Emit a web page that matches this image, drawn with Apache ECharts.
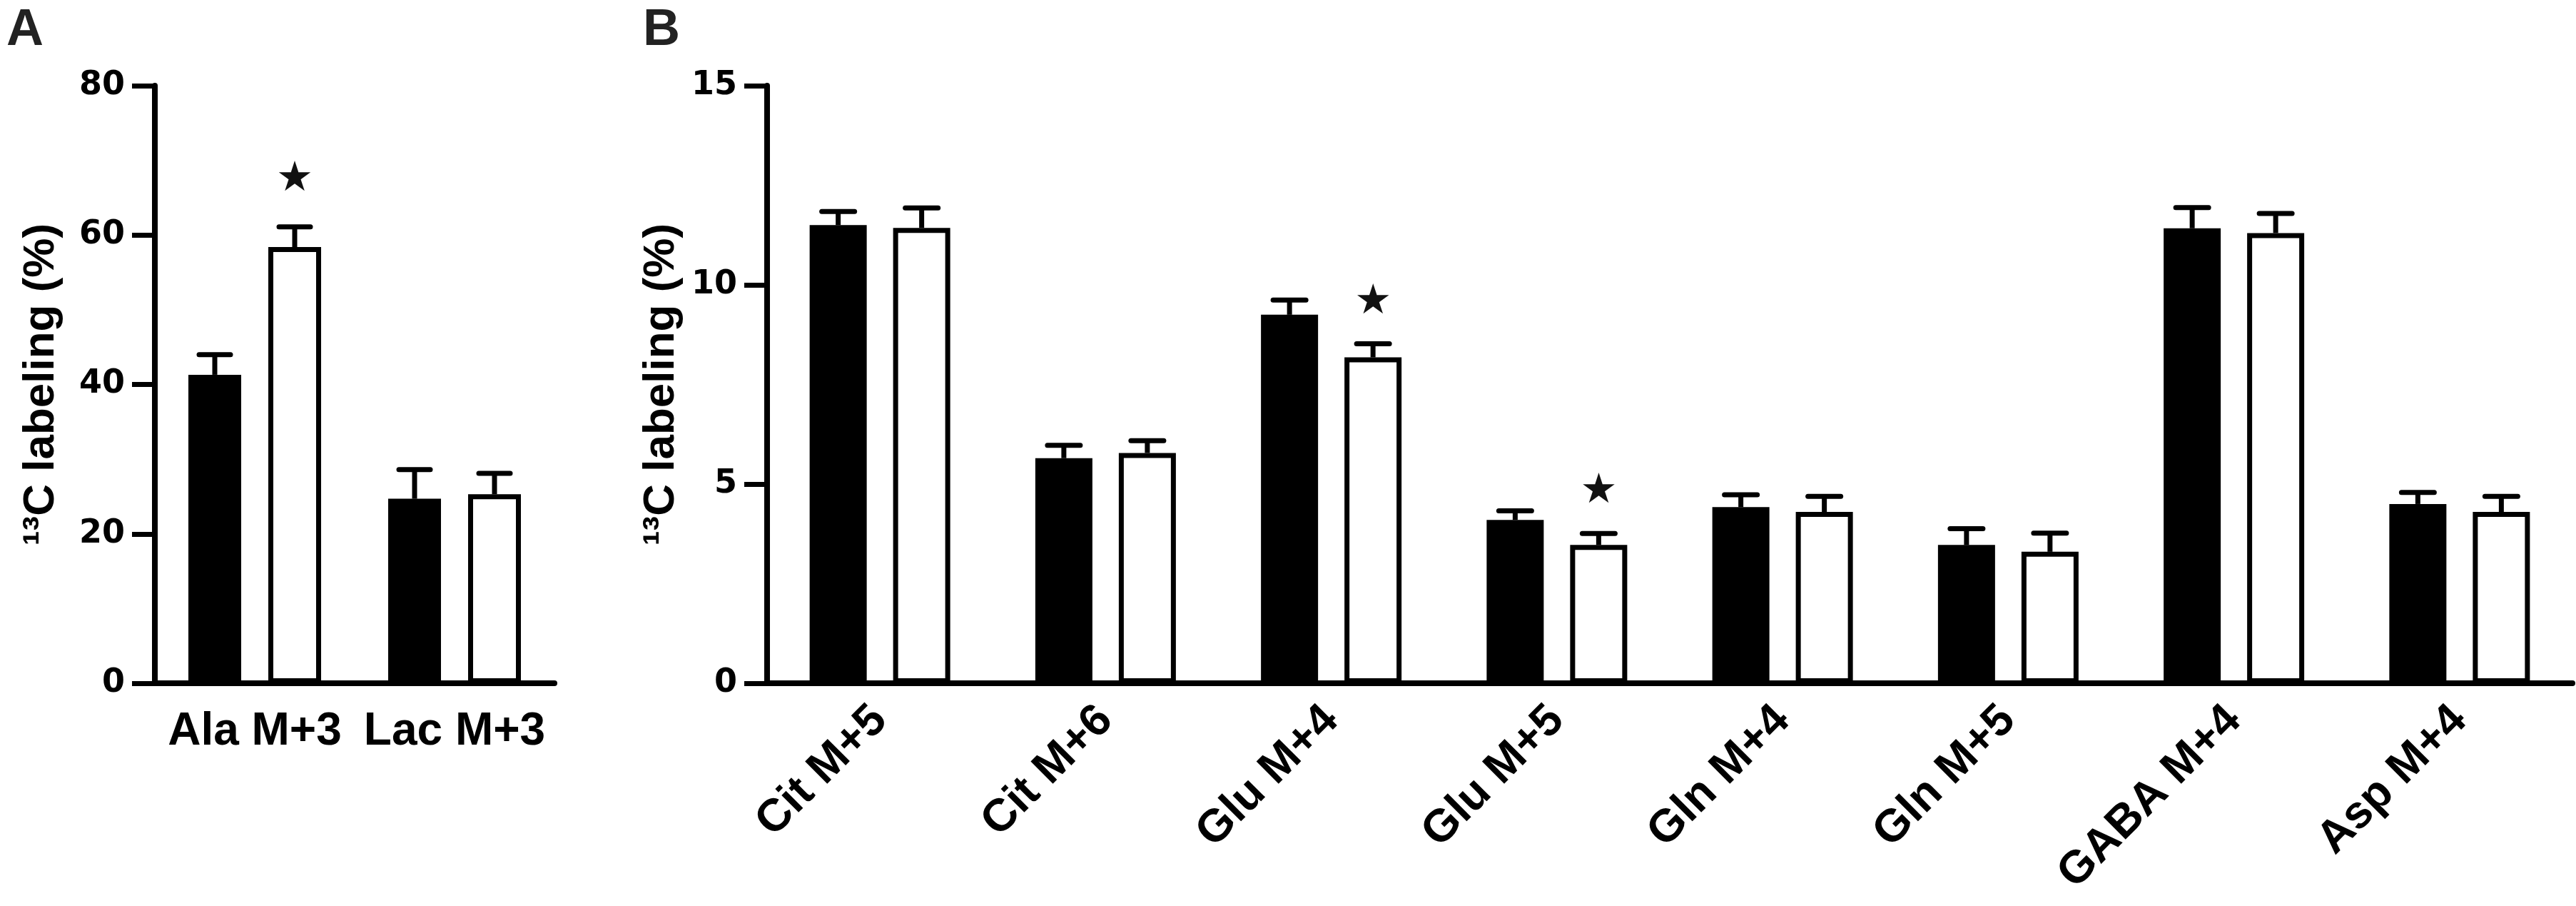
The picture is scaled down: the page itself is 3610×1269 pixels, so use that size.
<!DOCTYPE html>
<html>
<head>
<meta charset="utf-8">
<script src="https://cdn.jsdelivr.net/npm/echarts@6/dist/echarts.min.js"></script>
<style>
  html, body { margin: 0; padding: 0; background: #fff; }
  #chart { width: 3610px; height: 1269px; }
</style>
</head>
<body>
<div id="chart"></div>
<script>
// panel A
var catsA = ["Ala M+3", "Lac M+3"];
var blackA = [41.3, 24.7];
var blackErrA = [2.7, 3.9];
var whiteA = [58.4, 25.3];
var whiteErrA = [2.7, 2.8];
var starA = [1, 0];          // star above white bar
var ticksA = [0, 20, 40, 60, 80];

// panel B
var catsB = ["Cit M+5", "Cit M+6", "Glu M+4", "Glu M+5", "Gln M+4", "Gln M+5", "GABA M+4", "Asp M+4"];
var blackB = [11.5, 5.65, 9.25, 4.1, 4.42, 3.47, 11.42, 4.5];
var blackErrB = [0.34, 0.32, 0.37, 0.23, 0.31, 0.41, 0.52, 0.29];
var whiteB = [11.43, 5.78, 8.18, 3.47, 4.3, 3.3, 11.3, 4.3];
var whiteErrB = [0.5, 0.31, 0.34, 0.29, 0.39, 0.47, 0.49, 0.39];
var starB = [0, 0, 1, 1, 0, 0, 0, 0];
var ticksB = [0, 5, 10, 15];

var FONT = "Liberation Sans";
var NUMFONT = "DejaVu Sans";
var LW = 8;

var chart = echarts.init(document.getElementById("chart"));

function errBar(offset, capHalf) {
  return function (params, api) {
    var i = api.value(0);
    var base = api.coord([i, api.value(1)]);
    var top = api.coord([i, api.value(1) + api.value(2)]);
    var x = base[0] + offset;
    return {
      type: "group",
      children: [
        { type: "line", shape: { x1: x, y1: base[1], x2: x, y2: top[1] }, style: { stroke: "#000", lineWidth: 7 } },
        { type: "line", shape: { x1: x - capHalf, y1: top[1], x2: x + capHalf, y2: top[1] }, style: { stroke: "#000", lineWidth: 7, lineCap: "round" } }
      ]
    };
  };
}

function starMark(offset, lift) {
  return function (params, api) {
    var p = api.coord([api.value(0), api.value(1)]);
    return {
      type: "text",
      x: p[0] + offset,
      y: p[1] - lift,
      style: { text: "★", fontSize: 58, fontFamily: NUMFONT, fill: "#111", align: "center", verticalAlign: "middle" }
    };
  };
}

function tri(m, e) {
  return m.map(function (v, i) { return [i, v, e[i]]; });
}
function stars(m, e, s) {
  var out = [];
  s.forEach(function (f, i) { if (f) out.push([i, m[i] + e[i]]); });
  return out;
}

var bwA = 74, gapA = 38;
var bwB = 80, gapB = 37;
var offA = (bwA + gapA) / 2;
var offB = (bwB + gapB) / 2;

function xAxisCfg(idx, cats, rotate, margin) {
  return {
    type: "category", gridIndex: idx, data: cats,
    axisLine: { lineStyle: { color: "#000", width: LW } },
    axisTick: { alignWithLabel: true, length: 30, lineStyle: { color: "#000", width: 8 } },
    axisLabel: { color: "#000", fontFamily: FONT, fontWeight: "bold", fontSize: 64, rotate: rotate, margin: margin, interval: 0 }
  };
}
function yAxisCfg(idx, ticks, gap) {
  return {
    type: "value", gridIndex: idx, min: ticks[0], max: ticks[ticks.length - 1],
    interval: ticks[1] - ticks[0],
    name: "¹³C labeling (%)", nameLocation: "middle", nameRotate: 90, nameGap: gap,
    nameTextStyle: { color: "#000", fontFamily: FONT, fontWeight: "bold", fontSize: 62 },
    splitLine: { show: false },
    axisLine: { show: true, lineStyle: { color: "#000", width: LW } },
    axisTick: { show: true, length: 32, lineStyle: { color: "#000", width: 7 } },
    axisLabel: { color: "#000", fontFamily: NUMFONT, fontWeight: "bold", fontSize: 46, margin: 42 }
  };
}

var option = {
  backgroundColor: "#fff",
  animation: false,
  title: [
    { text: "A", left: 4, top: 2, textStyle: { fontFamily: FONT, fontWeight: "bold", fontSize: 72, color: "#222" } },
    { text: "B", left: 896, top: 2, textStyle: { fontFamily: FONT, fontWeight: "bold", fontSize: 72, color: "#222" } }
  ],
  grid: [
    { left: 217, top: 120, width: 560, height: 837 },
    { left: 1075, top: 120, width: 2530, height: 837 }
  ],
  xAxis: [xAxisCfg(0, catsA, 0, 36), xAxisCfg(1, catsB, 45, 42)],
  yAxis: [yAxisCfg(0, ticksA, 128), yAxisCfg(1, ticksB, 108)],
  series: [
    { type: "bar", xAxisIndex: 0, yAxisIndex: 0, data: blackA, barWidth: bwA, barGap: (gapA / bwA * 100) + "%",
      itemStyle: { color: "#000", borderColor: "#000", borderWidth: 7 } },
    { type: "bar", xAxisIndex: 0, yAxisIndex: 0, data: whiteA, barWidth: bwA,
      itemStyle: { color: "#fff", borderColor: "#000", borderWidth: 7 } },
    { type: "custom", xAxisIndex: 0, yAxisIndex: 0, data: tri(blackA, blackErrA), renderItem: errBar(-offA, 22), z: 3 },
    { type: "custom", xAxisIndex: 0, yAxisIndex: 0, data: tri(whiteA, whiteErrA), renderItem: errBar(offA, 22), z: 3 },
    { type: "custom", xAxisIndex: 0, yAxisIndex: 0, data: stars(whiteA, whiteErrA, starA), renderItem: starMark(offA, 66), z: 3 },

    { type: "bar", xAxisIndex: 1, yAxisIndex: 1, data: blackB, barWidth: bwB, barGap: (gapB / bwB * 100) + "%",
      itemStyle: { color: "#000", borderColor: "#000", borderWidth: 7 } },
    { type: "bar", xAxisIndex: 1, yAxisIndex: 1, data: whiteB, barWidth: bwB,
      itemStyle: { color: "#fff", borderColor: "#000", borderWidth: 7 } },
    { type: "custom", xAxisIndex: 1, yAxisIndex: 1, data: tri(blackB, blackErrB), renderItem: errBar(-offB, 23), z: 3 },
    { type: "custom", xAxisIndex: 1, yAxisIndex: 1, data: tri(whiteB, whiteErrB), renderItem: errBar(offB, 23), z: 3 },
    { type: "custom", xAxisIndex: 1, yAxisIndex: 1, data: stars(whiteB, whiteErrB, starB), renderItem: starMark(offB, 58), z: 3 }
  ]
};

chart.setOption(option);
</script>
</body>
</html>
